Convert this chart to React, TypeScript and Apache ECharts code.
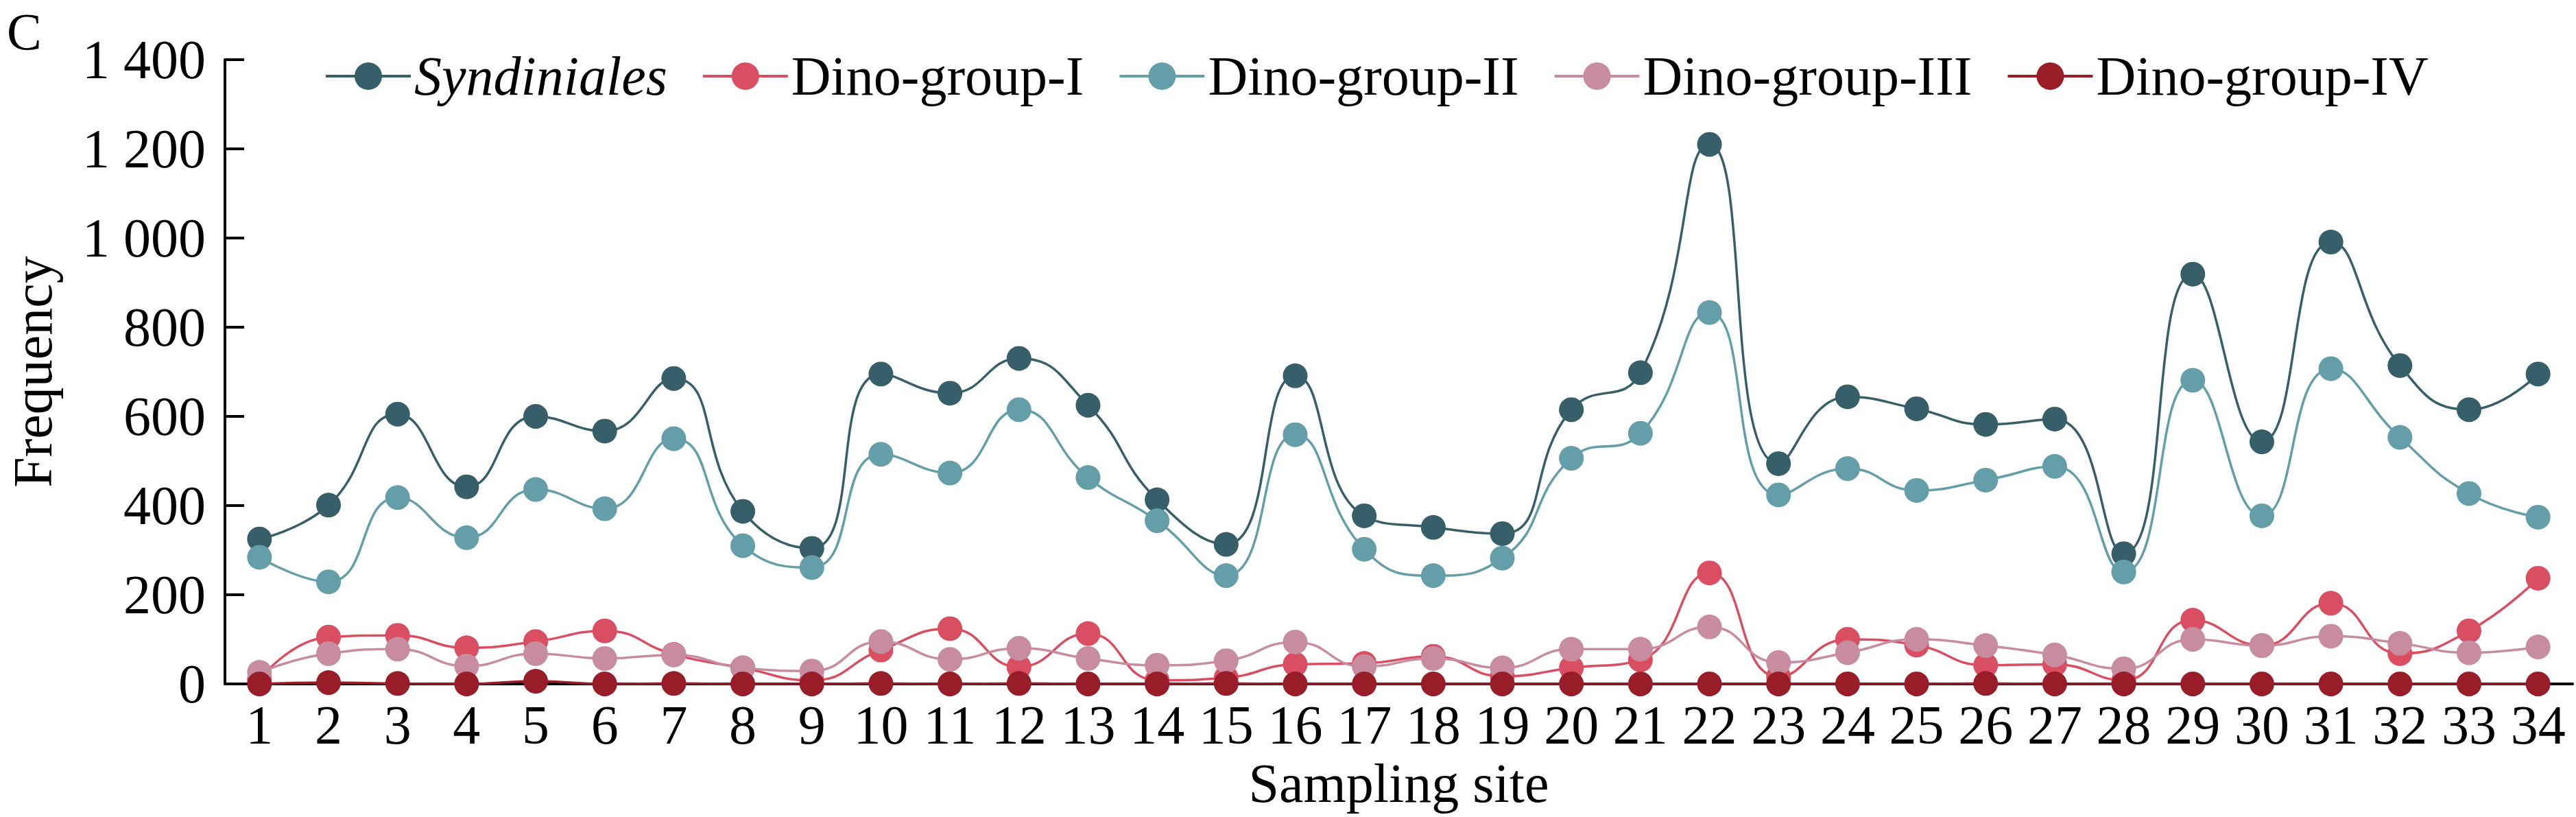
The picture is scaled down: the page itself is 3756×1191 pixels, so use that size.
import React, { useEffect, useRef } from "react";
import * as echarts from "echarts";

// sampling sites 1..34
const sites = Array.from({ length: 34 }, (_, i) => String(i + 1));

const yTicks = [0, 200, 400, 600, 800, 1000, 1200, 1400];

const syndiniales = [325, 401, 605, 442, 600, 567, 685, 387, 304, 695, 652, 730, 625, 413, 313, 691, 377, 351, 337, 615, 698, 1210, 494, 644, 617, 582, 594, 292, 919, 543, 991, 714, 615, 695];
const dinoI = [10, 105, 109, 81, 95, 119, 66, 36, 8, 76, 124, 38, 113, 8, 14, 44, 46, 62, 17, 36, 54, 249, 16, 100, 87, 42, 44, 8, 143, 86, 181, 68, 119, 237];
const dinoII = [284, 229, 418, 328, 436, 393, 550, 310, 261, 515, 473, 615, 463, 366, 243, 559, 302, 243, 282, 506, 562, 833, 424, 483, 434, 457, 488, 251, 681, 377, 707, 553, 427, 374];
const dinoIII = [26, 68, 78, 40, 68, 57, 65, 36, 29, 95, 55, 80, 57, 42, 52, 94, 39, 57, 36, 78, 78, 128, 48, 70, 100, 86, 65, 34, 100, 86, 107, 91, 70, 83];
const dinoIV = [0, 3, 1, 0, 6, 0, 1, 0, 0, 1, 0, 1, 0, 0, 1, 0, 0, 0, 0, 0, 0, 0, 0, 0, 0, 1, 0, 0, 0, 0, 0, 0, 0, 0];

const seriesNames = ["Syndiniales", "Dino-group-I", "Dino-group-II", "Dino-group-III", "Dino-group-IV"];
const seriesData = [syndiniales, dinoI, dinoII, dinoIII, dinoIV];
const seriesColors = ["#365f69", "#d94e60", "#639ea9", "#c88ca1", "#981d29"];

const FONT = "Liberation Serif, Times New Roman, serif";

const App: React.FC = () => {
  const chartRef = useRef<HTMLDivElement>(null);

  useEffect(() => {
    document.body.style.margin = "0";
    if (!chartRef.current) return;
    const chart = echarts.init(chartRef.current, undefined, { renderer: "svg" });

    const option: echarts.EChartsOption = {
      animation: false,
      backgroundColor: "#ffffff",
      textStyle: { fontFamily: FONT, color: "#000" },
      graphic: [
        {
          type: "text",
          left: 10,
          top: 8,
          style: { text: "C", fontSize: 76, fontFamily: FONT, fill: "#000" },
        },
      ],
      legend: {
        left: 468,
        top: 66,
        itemWidth: 124,
        itemHeight: 50,
        itemGap: 50,
        lineStyle: { width: 4 },
        textStyle: {
          fontSize: 80,
          fontFamily: FONT,
          color: "#000",
          rich: {
            i: { fontSize: 80, fontFamily: FONT, fontStyle: "italic", color: "#000" },
          },
        },
        formatter: (name: string) => (name === "Syndiniales" ? "{i|Syndiniales}" : name),
        data: seriesNames,
      },
      grid: { left: 313, right: 5, top: 87, bottom: 194, containLabel: false },
      xAxis: {
        type: "category",
        data: sites,
        boundaryGap: true,
        name: "Sampling site",
        nameLocation: "middle",
        nameGap: 100,
        nameTextStyle: { fontSize: 80, fontFamily: FONT, color: "#000" },
        axisLine: { lineStyle: { color: "#000", width: 4 } },
        axisTick: { inside: true, length: 19, lineStyle: { color: "#000", width: 3 } },
        axisLabel: { fontSize: 80, fontFamily: FONT, color: "#000", margin: 20, interval: 0 },
        splitLine: { show: false },
      },
      yAxis: {
        type: "value",
        min: yTicks[0],
        max: yTicks[yTicks.length - 1],
        interval: 200,
        name: "Frequency",
        nameLocation: "middle",
        nameGap: 240,
        nameTextStyle: { fontSize: 80, fontFamily: FONT, color: "#000" },
        axisLine: { show: true, lineStyle: { color: "#000", width: 4 } },
        axisTick: { show: true, inside: true, length: 28, lineStyle: { color: "#000", width: 4 } },
        axisLabel: {
          fontSize: 80,
          fontFamily: FONT,
          color: "#000",
          margin: 28,
          formatter: (v: number) => String(v).replace(/\B(?=(\d{3})+(?!\d))/g, " "),
        },
        splitLine: { show: false },
      },
      series: seriesNames.map((name, i) => ({
        name,
        type: "line",
        data: seriesData[i],
        smooth: 0.5,
        symbol: "circle",
        symbolSize: 36,
        lineStyle: { color: seriesColors[i], width: 3.5 },
        itemStyle: { color: seriesColors[i] },
      })),
    };

    chart.setOption(option);
    return () => chart.dispose();
  }, []);

  return <div ref={chartRef} style={{ width: 3756, height: 1191 }} />;
};

export default App;
